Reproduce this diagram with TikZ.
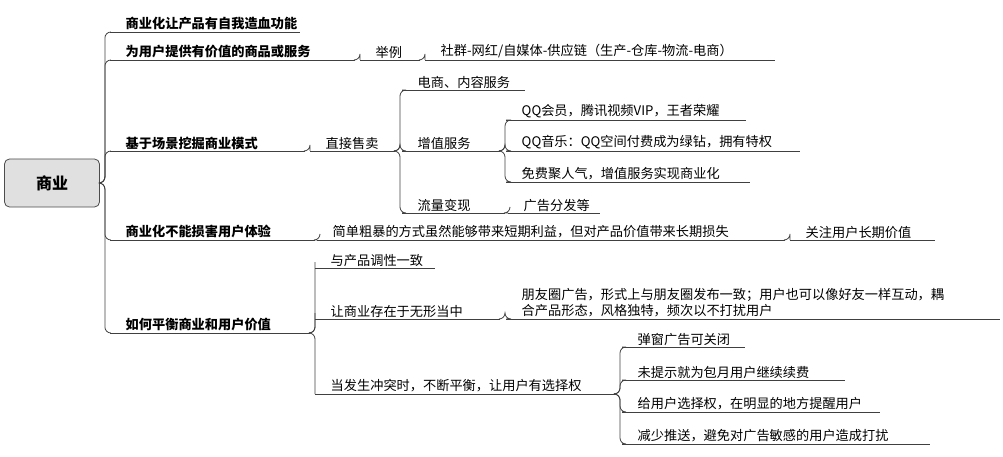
\documentclass[tikz,border=0pt]{standalone}
\usepackage{fontspec}
\setmainfont{Noto Sans CJK SC}
\tikzset{
    x=1pt, y=-1pt,
    link/.style={draw=black!75, line width=0.8pt, rounded corners=6pt},
    uline/.style={draw=black!75, line width=0.8pt},
    lbl/.style={anchor=south west, inner sep=1.5pt, font=\fontsize{13.2}{16.5}\selectfont},
    main/.style={lbl, font=\fontsize{13.2}{16}\selectfont\bfseries},
    rootbox/.style={draw=black!70, fill=black!12, rounded corners=5pt, line width=0.8pt,
        minimum width=95pt, minimum height=48pt, font=\fontsize{16}{18}\selectfont\bfseries},
}
% \topic{name}{x}{y}{length}{style}{text}
\newcommand{\topic}[6]{
    \coordinate (#1-s) at (#2,#3);
    \coordinate (#1-e) at (#2+#4,#3);
    \draw[uline] (#1-s) -- (#1-e);
    \node[#5] (#1) at (#2+14,#3) {#6};
}
\newcommand{\link}[2]{\draw[link] (#1-e) -- ++(5,0) |- (#2-s);}
\begin{document}
\begin{tikzpicture}
    \useasboundingbox (0,0) rectangle (1003,457);
    \node[rootbox] (root) at (52,183) {商业};
    \coordinate (root-e) at (root.east);

    \topic{m1}{110}{32}{190}{main}{商业化让产品有自我造血功能}
    \topic{m2}{110}{60}{245}{main}{为用户提供有价值的商品或服务}
    \topic{m3}{110}{151}{195}{main}{基于场景挖掘商业模式}
    \topic{m4}{110}{240}{205}{main}{商业化不能损害用户体验}
    \topic{m5}{110}{333}{200}{main}{如何平衡商业和用户价值}

    \topic{a1}{360}{60}{60}{lbl}{举例}
    \topic{a2}{425}{60}{350}{lbl}{社群-网红/自媒体-供应链（生产-仓库-物流-电商）}

    \topic{b1}{310}{151}{85}{lbl}{直接售卖}
    \topic{b2}{402}{90}{123}{lbl}{电商、内容服务}
    \topic{b3}{402}{151}{98}{lbl}{增值服务}
    \topic{b4}{402}{213}{103}{lbl}{流量变现}
    \topic{c1}{506}{120}{240}{lbl}{QQ会员，腾讯视频VIP，王者荣耀}
    \topic{c2}{506}{151}{294}{lbl}{QQ音乐：QQ空间付费成为绿钻，拥有特权}
    \topic{c3}{506}{182}{244}{lbl}{免费聚人气，增值服务实现商业化}
    \topic{c4}{508}{213}{92}{lbl}{广告分发等}

    \topic{d1}{317}{240}{468}{lbl}{简单粗暴的方式虽然能够带来短期利益，但对产品价值带来长期损失}
    \topic{d2}{790}{240}{145}{lbl}{关注用户长期价值}

    \topic{e1}{315}{268}{120}{lbl}{与产品调性一致}
    \topic{e2}{315}{319}{185}{lbl}{让商业存在于无形当中}
    \topic{e3}{315}{394}{300}{lbl}{当发生冲突时，不断平衡，让用户有选择权}
    \topic{f1}{506}{319}{494}{lbl, align=left}{朋友圈广告，形式上与朋友圈发布一致；用户也可以像好友一样互动，耦\\合产品形态，风格独特，频次以不打扰用户}
    \topic{g1}{622}{347}{123}{lbl}{弹窗广告可关闭}
    \topic{g2}{622}{380}{223}{lbl}{未提示就为包月用户继续续费}
    \topic{g3}{622}{412}{258}{lbl}{给用户选择权，在明显的地方提醒用户}
    \topic{g4}{622}{444}{308}{lbl}{减少推送，避免对广告敏感的用户造成打扰}

    \foreach \c in {m1,m2,m3,m4,m5} {\link{root}{\c}}
    \link{m2}{a1}
    \link{a1}{a2}
    \link{m3}{b1}
    \foreach \c in {b2,b3,b4} {\link{b1}{\c}}
    \foreach \c in {c1,c2,c3} {\link{b3}{\c}}
    \link{b4}{c4}
    \link{m4}{d1}
    \link{d1}{d2}
    \foreach \c in {e1,e2,e3} {\link{m5}{\c}}
    \link{e2}{f1}
    \foreach \c in {g1,g2,g3,g4} {\link{e3}{\c}}
\end{tikzpicture}
\end{document}
